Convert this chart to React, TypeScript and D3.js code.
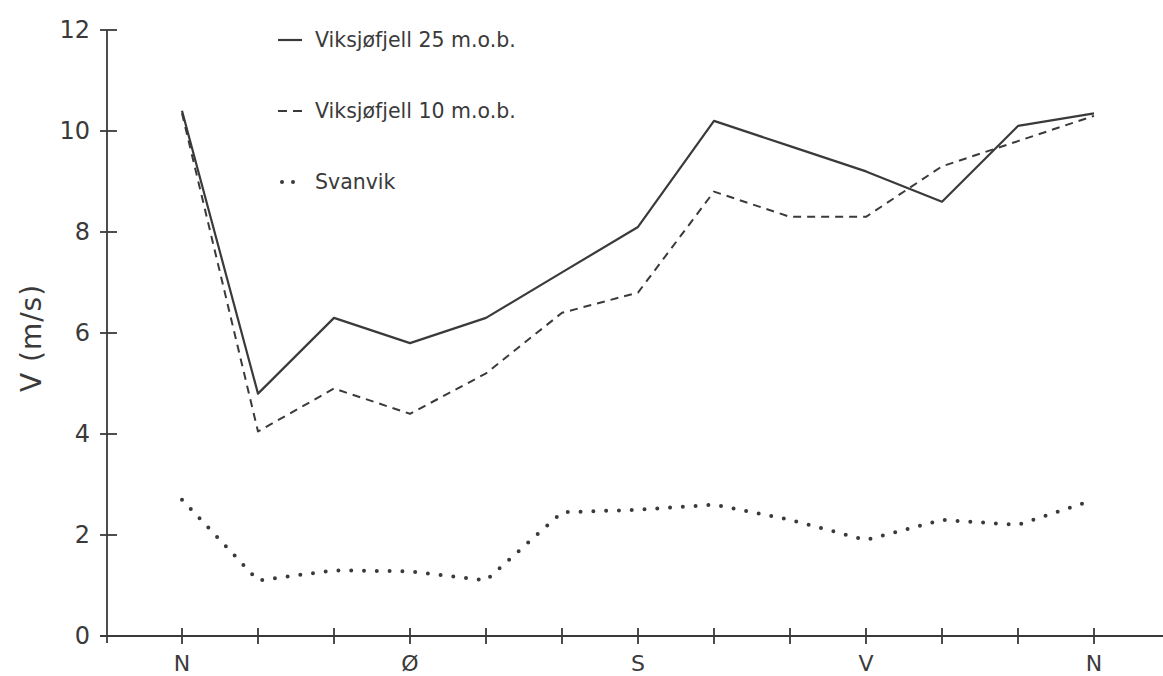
import React from "react";
import * as d3 from "d3";

const directions = [0, 30, 60, 90, 120, 150, 180, 210, 240, 270, 300, 330, 360];
const dirLabels: { deg: number; label: string }[] = [
  { deg: 0, label: "N" },
  { deg: 90, label: "Ø" },
  { deg: 180, label: "S" },
  { deg: 270, label: "V" },
  { deg: 360, label: "N" },
];
const yTicks = [0, 2, 4, 6, 8, 10, 12];

const viks25 = [10.4, 4.8, 6.3, 5.8, 6.3, 7.2, 8.1, 10.2, 9.7, 9.2, 8.6, 10.1, 10.35];
const viks10 = [10.35, 4.05, 4.9, 4.4, 5.2, 6.4, 6.8, 8.8, 8.3, 8.3, 9.3, 9.8, 10.3];
const svanvik = [2.7, 1.1, 1.3, 1.28, 1.1, 2.45, 2.5, 2.6, 2.3, 1.9, 2.3, 2.2, 2.7];

const seriesNames = ["Viksjøfjell 25 m.o.b.", "Viksjøfjell 10 m.o.b.", "Svanvik"];

const W = 1163;
const H = 676;
const FONT = "'DejaVu Sans', sans-serif";
const INK = "#3a3a3a";

export default function App() {
  const x = d3.scaleLinear().domain([0, 360]).range([182, 1094]);
  const y = d3.scaleLinear().domain([0, 12]).range([636, 30]);
  const axisLeft = 107;

  const line = d3
    .line<number>()
    .x((_, i) => x(directions[i]))
    .y((d) => y(d));

  const styles = [
    { data: viks25, dash: undefined as string | undefined, width: 2.2, cap: "butt" },
    { data: viks10, dash: "8 6", width: 2, cap: "butt" },
    { data: svanvik, dash: "0 12.8", width: 4, cap: "round" },
  ];

  const legendY = [40, 111, 182];

  return (
    <svg
      width={W}
      height={H}
      style={{ position: "absolute", left: 0, top: 0, background: "#fff" }}
      fontFamily={FONT}
    >
      {/* axes */}
      <line x1={axisLeft} x2={axisLeft} y1={y(12)} y2={y(0) + 7} stroke={INK} strokeWidth={1.8} />
      <line x1={axisLeft - 7} x2={W} y1={y(0)} y2={y(0)} stroke={INK} strokeWidth={2} />
      {yTicks.map((t) => (
        <g key={"y" + t}>
          <line x1={axisLeft - 7} x2={axisLeft + 10} y1={y(t)} y2={y(t)} stroke={INK} strokeWidth={1.8} />
          <text
            x={90}
            y={y(t)}
            textAnchor="end"
            dominantBaseline="central"
            fontSize={24}
            fill={INK}
          >
            {t}
          </text>
        </g>
      ))}
      {directions.map((d) => (
        <line
          key={"x" + d}
          x1={x(d)}
          x2={x(d)}
          y1={y(0) - 8}
          y2={y(0) + 8}
          stroke={INK}
          strokeWidth={1.8}
        />
      ))}
      {dirLabels.map((l, i) => (
        <text
          key={"xl" + i}
          x={x(l.deg)}
          y={671}
          textAnchor="middle"
          fontSize={22}
          fill={INK}
        >
          {l.label}
        </text>
      ))}
      <text
        transform={`translate(41, 338) rotate(-90)`}
        textAnchor="middle"
        fontSize={28}
        letterSpacing={1}
        fill={INK}
      >
        V (m/s)
      </text>

      {/* series */}
      {styles.map((s, i) => (
        <path
          key={"s" + i}
          d={line(s.data) || ""}
          fill="none"
          stroke={INK}
          strokeWidth={s.width}
          strokeDasharray={s.dash}
          strokeLinecap={s.cap as any}
          strokeLinejoin="round"
        />
      ))}

      {/* legend */}
      {seriesNames.map((name, i) => (
        <g key={"lg" + i}>
          <line
            x1={i === 2 ? 282 : 278}
            x2={i === 2 ? 298 : 302}
            y1={legendY[i]}
            y2={legendY[i]}
            stroke={INK}
            strokeWidth={styles[i].width}
            strokeDasharray={i === 1 ? "9 6" : i === 2 ? "0 11" : undefined}
            strokeLinecap={styles[i].cap as any}
          />
          <text x={315} y={legendY[i]} dominantBaseline="central" fontSize={20.5} fill={INK}>
            {name}
          </text>
        </g>
      ))}
    </svg>
  );
}
